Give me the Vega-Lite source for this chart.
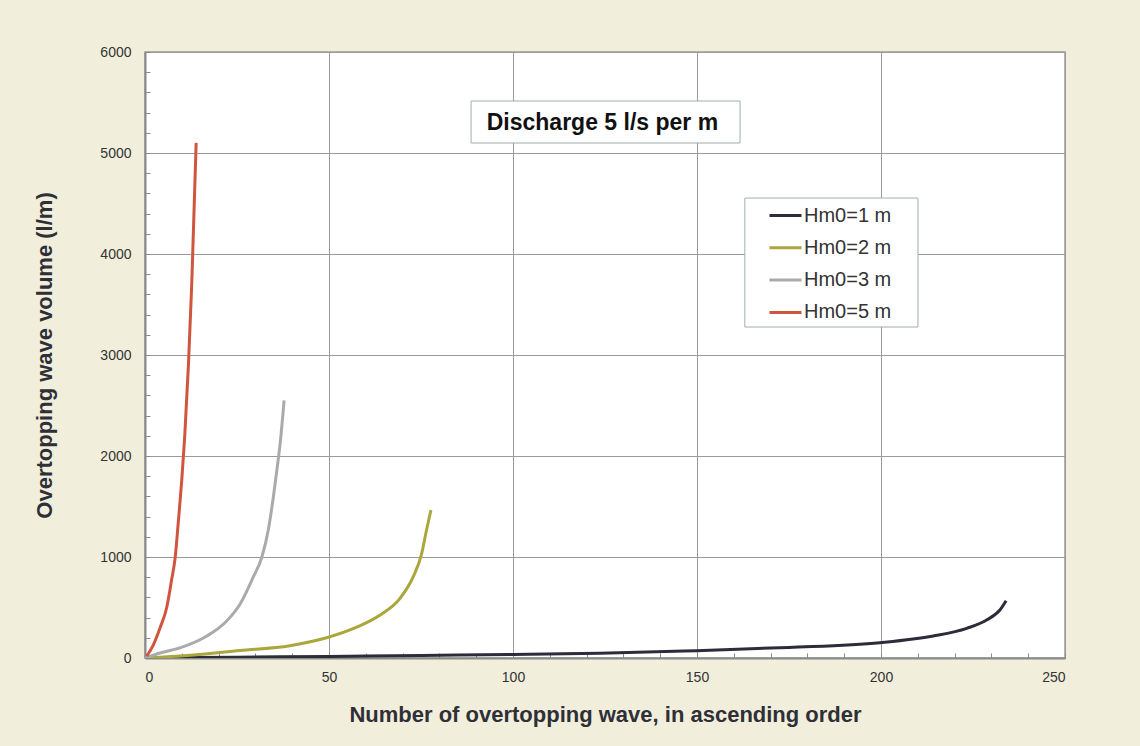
{
  "$schema": "https://vega.github.io/schema/vega-lite/v6.json",
  "width": 920,
  "height": 606,
  "autosize": {"type": "none"},
  "padding": {"left": 145, "top": 52, "right": 75, "bottom": 88},
  "background": "#f1efdc",
  "config": {
    "view": {"fill": "white", "stroke": "#9a9a9a", "strokeWidth": 1.5},
    "font": "Liberation Sans",
    "axis": {
      "labelFont": "Liberation Sans",
      "labelFontSize": 14,
      "labelColor": "#333333",
      "labelOverlap": false,
      "tickCount": 200,
      "titleFont": "Liberation Sans",
      "titleFontSize": 22,
      "titleFontWeight": "bold",
      "titleColor": "#2f2f38",
      "domainColor": "#8a8a8a",
      "domainWidth": 2,
      "tickColor": "#8a8a8a",
      "tickWidth": 1,
      "tickSize": -5,
      "gridColor": "#9a9a9a",
      "gridWidth": 1
    }
  },
  "layer": [
    {
      "data": {"values": [{"x1": 163.0, "x2": 210.05, "y1": 3277, "y2": 4554}]},
      "mark": {"type": "rect", "fill": "white", "stroke": "#9fb0a8", "strokeWidth": 1},
      "encoding": {
        "x": {"field": "x1", "type": "quantitative", "axis": {"title": "Number of overtopping wave, in ascending order"}},
        "x2": {"field": "x2"},
        "y": {"field": "y1", "type": "quantitative", "axis": {"title": "Overtopping wave volume (l/m)"}},
        "y2": {"field": "y2"}
      }
    },
    {
      "data": {
        "values": [
          {"n": 0, "v": 0, "s": "Hm0=1 m"},
          {"n": 25, "v": 8, "s": "Hm0=1 m"},
          {"n": 50, "v": 16, "s": "Hm0=1 m"},
          {"n": 75, "v": 25, "s": "Hm0=1 m"},
          {"n": 100, "v": 35, "s": "Hm0=1 m"},
          {"n": 123.6, "v": 46, "s": "Hm0=1 m"},
          {"n": 149.9, "v": 73, "s": "Hm0=1 m"},
          {"n": 175, "v": 105, "s": "Hm0=1 m"},
          {"n": 199.7, "v": 152, "s": "Hm0=1 m"},
          {"n": 214.2, "v": 218, "s": "Hm0=1 m"},
          {"n": 223.3, "v": 294, "s": "Hm0=1 m"},
          {"n": 228.7, "v": 376, "s": "Hm0=1 m"},
          {"n": 232.3, "v": 475, "s": "Hm0=1 m"},
          {"n": 234, "v": 567, "s": "Hm0=1 m"},
          {"n": 0, "v": 0, "s": "Hm0=2 m"},
          {"n": 10.4, "v": 23, "s": "Hm0=2 m"},
          {"n": 25.8, "v": 75, "s": "Hm0=2 m"},
          {"n": 39.4, "v": 122, "s": "Hm0=2 m"},
          {"n": 49.8, "v": 205, "s": "Hm0=2 m"},
          {"n": 57.5, "v": 305, "s": "Hm0=2 m"},
          {"n": 63.9, "v": 426, "s": "Hm0=2 m"},
          {"n": 69.3, "v": 591, "s": "Hm0=2 m"},
          {"n": 72.9, "v": 805, "s": "Hm0=2 m"},
          {"n": 75.2, "v": 1036, "s": "Hm0=2 m"},
          {"n": 76.5, "v": 1267, "s": "Hm0=2 m"},
          {"n": 77.7, "v": 1465, "s": "Hm0=2 m"},
          {"n": 0, "v": 0, "s": "Hm0=3 m"},
          {"n": 4.1, "v": 50, "s": "Hm0=3 m"},
          {"n": 9.5, "v": 100, "s": "Hm0=3 m"},
          {"n": 16.8, "v": 217, "s": "Hm0=3 m"},
          {"n": 22.2, "v": 367, "s": "Hm0=3 m"},
          {"n": 25.8, "v": 533, "s": "Hm0=3 m"},
          {"n": 29.4, "v": 800, "s": "Hm0=3 m"},
          {"n": 31.7, "v": 993, "s": "Hm0=3 m"},
          {"n": 33.5, "v": 1267, "s": "Hm0=3 m"},
          {"n": 34.9, "v": 1600, "s": "Hm0=3 m"},
          {"n": 35.8, "v": 1850, "s": "Hm0=3 m"},
          {"n": 36.8, "v": 2150, "s": "Hm0=3 m"},
          {"n": 37.8, "v": 2550, "s": "Hm0=3 m"},
          {"n": 0.45, "v": 17, "s": "Hm0=5 m"},
          {"n": 2.3, "v": 133, "s": "Hm0=5 m"},
          {"n": 4.1, "v": 300, "s": "Hm0=5 m"},
          {"n": 5.9, "v": 500, "s": "Hm0=5 m"},
          {"n": 7.2, "v": 767, "s": "Hm0=5 m"},
          {"n": 8.2, "v": 993, "s": "Hm0=5 m"},
          {"n": 9.1, "v": 1367, "s": "Hm0=5 m"},
          {"n": 10.0, "v": 1767, "s": "Hm0=5 m"},
          {"n": 10.8, "v": 2200, "s": "Hm0=5 m"},
          {"n": 11.8, "v": 2900, "s": "Hm0=5 m"},
          {"n": 12.7, "v": 3700, "s": "Hm0=5 m"},
          {"n": 13.3, "v": 4400, "s": "Hm0=5 m"},
          {"n": 13.9, "v": 5100, "s": "Hm0=5 m"}
        ]
      },
      "mark": {"type": "line", "strokeWidth": 3, "interpolate": "monotone", "clip": true},
      "encoding": {
        "x": {
          "field": "n", "type": "quantitative",
          "scale": {"domain": [0, 250], "nice": false, "zero": false},
          "axis": {
            "title": "Number of overtopping wave, in ascending order",
            "values": [0,10,20,30,40,50,60,70,80,90,100,110,120,130,140,150,160,170,180,190,200,210,220,230,240,250],
            "tickCount": 200,
            "labelExpr": "datum.value % 50 === 0 ? datum.label : ''",
            "gridOpacity": {"condition": {"test": "datum.value % 50 === 0", "value": 1}, "value": 0},
            "labelPadding": 17,
            "titlePadding": 20
          }
        },
        "y": {
          "field": "v", "type": "quantitative",
          "scale": {"domain": [0, 6000], "nice": false},
          "axis": {
            "title": "Overtopping wave volume (l/m)",
            "values": [0,200,400,600,800,1000,1200,1400,1600,1800,2000,2200,2400,2600,2800,3000,3200,3400,3600,3800,4000,4200,4400,4600,4800,5000,5200,5400,5600,5800,6000],
            "tickCount": 200,
            "labelExpr": "datum.value % 1000 === 0 ? datum.label : ''",
            "format": "d",
            "gridOpacity": {"condition": {"test": "datum.value % 1000 === 0", "value": 1}, "value": 0},
            "labelPadding": 19,
            "titlePadding": 43
          }
        },
        "color": {
          "field": "s", "type": "nominal",
          "scale": {
            "domain": ["Hm0=1 m", "Hm0=2 m", "Hm0=3 m", "Hm0=5 m"],
            "range": ["#2c2c3a", "#aaa73c", "#aaaaaa", "#d0553f"]
          },
          "legend": {
            "title": null,
            "orient": "none",
            "legendX": 600,
            "legendY": 146,
            "padding": 0,
            "symbolType": "stroke",
            "symbolSize": 1024,
            "symbolStrokeWidth": 3,
            "symbolOffset": 23,
            "labelOffset": 1,
            "labelFont": "Liberation Sans",
            "labelFontSize": 20,
            "labelColor": "#333333",
            "rowPadding": 4.3
          }
        }
      }
    },
    {
      "data": {"values": [{"x1": 88.6, "x2": 161.7, "y1": 5099, "y2": 5515}]},
      "mark": {"type": "rect", "fill": "white", "stroke": "#9fb0a8", "strokeWidth": 1},
      "encoding": {
        "x": {"field": "x1", "type": "quantitative"},
        "x2": {"field": "x2"},
        "y": {"field": "y1", "type": "quantitative"},
        "y2": {"field": "y2"}
      }
    },
    {
      "data": {"values": [{"x": 124.3, "y": 5300, "t": "Discharge 5 l/s per m"}]},
      "mark": {"type": "text", "font": "Liberation Sans", "fontSize": 23, "fontWeight": "bold", "color": "#111111", "align": "center", "baseline": "middle"},
      "encoding": {
        "x": {"field": "x", "type": "quantitative"},
        "y": {"field": "y", "type": "quantitative"},
        "text": {"field": "t"}
      }
    }
  ]
}
